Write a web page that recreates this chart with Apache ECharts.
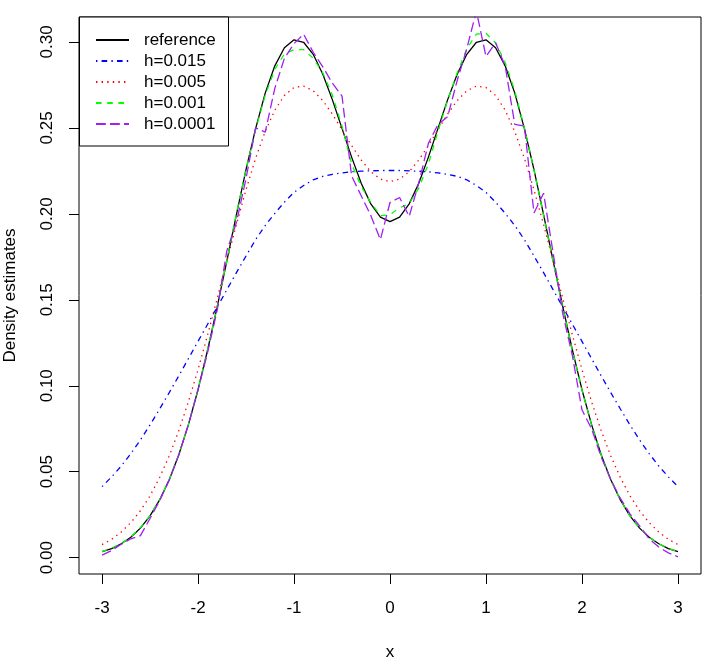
<!DOCTYPE html>
<html>
<head>
<meta charset="utf-8">
<script src="https://cdn.jsdelivr.net/npm/echarts@6/dist/echarts.min.js"></script>
<style>
  html, body { margin: 0; padding: 0; background: #fff; }
  #chart { width: 706px; height: 663px; }
</style>
</head>
<body>
<div id="chart"></div>
<script>
var xs = [-3.0, -2.9, -2.8, -2.7, -2.6, -2.5, -2.4, -2.3, -2.2, -2.1,
  -2.0, -1.9, -1.8, -1.7, -1.6, -1.5, -1.4, -1.3, -1.2, -1.1,
  -1.0, -0.9, -0.8, -0.7, -0.6, -0.5, -0.4, -0.3, -0.2, -0.1,
  0.0, 0.1, 0.2, 0.3, 0.4, 0.5, 0.6, 0.7, 0.8, 0.9,
  1.0, 1.1, 1.2, 1.3, 1.4, 1.5, 1.6, 1.7, 1.8, 1.9,
  2.0, 2.1, 2.2, 2.3, 2.4, 2.5, 2.6, 2.7, 2.8, 2.9, 3.0];

var reference = [0.0035, 0.0053, 0.0081, 0.0119, 0.0172, 0.0243, 0.0336, 0.0453, 0.0599, 0.0774,
  0.0977, 0.1208, 0.1460, 0.1725, 0.1996, 0.2257, 0.2496, 0.2702, 0.2861, 0.2966,
  0.3012, 0.2998, 0.2928, 0.2812, 0.2663, 0.2497, 0.2330, 0.2178, 0.2058, 0.1981,
  0.1955, 0.1981, 0.2058, 0.2178, 0.2330, 0.2497, 0.2663, 0.2812, 0.2928, 0.2998,
  0.3012, 0.2966, 0.2861, 0.2702, 0.2496, 0.2257, 0.1996, 0.1725, 0.1460, 0.1208,
  0.0977, 0.0774, 0.0599, 0.0453, 0.0336, 0.0243, 0.0172, 0.0119, 0.0081, 0.0053, 0.0035];

var h015 = [0.0413, 0.0470, 0.0533, 0.0605, 0.0685, 0.0772, 0.0865, 0.0960, 0.1058, 0.1158,
  0.1258, 0.1358, 0.1458, 0.1558, 0.1658, 0.1755, 0.1850, 0.1932, 0.2003, 0.2068,
  0.2125, 0.2165, 0.2198, 0.2218, 0.2230, 0.2238, 0.2245, 0.2248, 0.2250, 0.2252,
  0.2252, 0.2252, 0.2250, 0.2248, 0.2245, 0.2238, 0.2230, 0.2218, 0.2198, 0.2165,
  0.2125, 0.2068, 0.2003, 0.1932, 0.1850, 0.1755, 0.1658, 0.1558, 0.1458, 0.1358,
  0.1258, 0.1158, 0.1058, 0.0960, 0.0865, 0.0772, 0.0685, 0.0605, 0.0533, 0.0470, 0.0413];

var h005 = [0.0076, 0.0107, 0.0149, 0.0204, 0.0273, 0.0360, 0.0466, 0.0592, 0.0739, 0.0907,
  0.1094, 0.1296, 0.1508, 0.1725, 0.1938, 0.2140, 0.2323, 0.2479, 0.2603, 0.2689,
  0.2735, 0.2743, 0.2716, 0.2659, 0.2580, 0.2489, 0.2397, 0.2313, 0.2245, 0.2202,
  0.2187, 0.2202, 0.2245, 0.2313, 0.2397, 0.2489, 0.2580, 0.2659, 0.2716, 0.2743,
  0.2735, 0.2689, 0.2603, 0.2479, 0.2323, 0.2140, 0.1938, 0.1725, 0.1508, 0.1296,
  0.1094, 0.0907, 0.0739, 0.0592, 0.0466, 0.0360, 0.0273, 0.0204, 0.0149, 0.0107, 0.0076];

var h001 = [0.0035, 0.0055, 0.0083, 0.0120, 0.0175, 0.0245, 0.0338, 0.0455, 0.0600, 0.0775,
  0.0978, 0.1210, 0.1462, 0.1730, 0.2000, 0.2258, 0.2490, 0.2690, 0.2840, 0.2930,
  0.2955, 0.2955, 0.2905, 0.2820, 0.2690, 0.2510, 0.2290, 0.2160, 0.2065, 0.1990,
  0.1995, 0.2035, 0.2060, 0.2150, 0.2290, 0.2480, 0.2660, 0.2820, 0.2960, 0.3045,
  0.3050, 0.2995, 0.2880, 0.2715, 0.2500, 0.2255, 0.1990, 0.1720, 0.1455, 0.1205,
  0.0975, 0.0772, 0.0597, 0.0452, 0.0335, 0.0242, 0.0172, 0.0119, 0.0081, 0.0054, 0.0036];

var h0001 = [0.0015, 0.0042, 0.0078, 0.0110, 0.0128, 0.0228, 0.0332, 0.0450, 0.0598, 0.0775,
  0.0975, 0.1195, 0.1440, 0.1785, 0.1950, 0.2205, 0.2500, 0.2475, 0.2730, 0.2905,
  0.2990, 0.3045, 0.2940, 0.2855, 0.2760, 0.2685, 0.2220, 0.2105, 0.1990, 0.1850,
  0.2066, 0.2095, 0.1985, 0.2180, 0.2410, 0.2520, 0.2565, 0.2775, 0.2960, 0.3180,
  0.2915, 0.2995, 0.2860, 0.2520, 0.2510, 0.2005, 0.2120, 0.1770, 0.1420, 0.1175,
  0.0860, 0.0750, 0.0585, 0.0455, 0.0345, 0.0255, 0.0185, 0.0110, 0.0062, 0.0028, 0.0005];

var xTicks = [-3, -2, -1, 0, 1, 2, 3];
var yTicks = [0, 0.05, 0.10, 0.15, 0.20, 0.25, 0.30];

var seriesNames = ["reference", "h=0.015", "h=0.005", "h=0.001", "h=0.0001"];
var seriesValues = [reference, h015, h005, h001, h0001];
var seriesColors = ["#000000", "#0000FF", "#FF0000", "#00FF00", "#A020F0"];
var seriesDash = ["solid", [1.4, 4.2, 5.6, 4.2], [1.4, 4.2], [5.6, 5.6], [9.8, 4.2]];

var FONT = "'Liberation Sans', Arial, Helvetica, sans-serif";

function pairs(vals) {
  var out = [];
  for (var i = 0; i < xs.length; i++) out.push([xs[i], vals[i]]);
  return out;
}

var series = seriesNames.map(function (name, i) {
  return {
    name: name,
    type: "line",
    data: pairs(seriesValues[i]),
    symbol: "none",
    smooth: false,
    clip: true,
    animation: false,
    lineStyle: { color: seriesColors[i], width: 1.3, type: seriesDash[i] },
    itemStyle: { color: seriesColors[i] },
    z: 2 + i
  };
});

var chart = echarts.init(document.getElementById("chart"), null, { renderer: "canvas" });

chart.setOption({
  backgroundColor: "#ffffff",
  animation: false,
  textStyle: { fontFamily: FONT },
  grid: {
    left: 79, right: 5, top: 17, bottom: 89,
    outerBoundsMode: "none",
    containLabel: false,
    show: true, borderColor: "#000", borderWidth: 1, backgroundColor: "transparent"
  },
  xAxis: {
    type: "value",
    min: -3.24, max: 3.24,
    name: "x",
    nameLocation: "middle",
    nameGap: 70,
    nameTextStyle: { color: "#000", fontSize: 17, fontFamily: FONT },
    splitLine: { show: false },
    axisLine: { show: false, onZero: false },
    axisTick: { show: true, inside: false, length: 10, customValues: xTicks,
      lineStyle: { color: "#000", width: 1 } },
    axisLabel: { show: true, customValues: xTicks, margin: 26, color: "#000",
      fontSize: 17, fontFamily: FONT }
  },
  yAxis: {
    type: "value",
    min: -0.0095, max: 0.3145,
    name: "Density estimates",
    nameLocation: "middle",
    nameGap: 60,
    nameRotate: 90,
    nameTextStyle: { color: "#000", fontSize: 17, fontFamily: FONT },
    splitLine: { show: false },
    axisLine: { show: false, onZero: false },
    axisTick: { show: true, inside: false, length: 10, customValues: yTicks,
      lineStyle: { color: "#000", width: 1 } },
    axisLabel: { show: true, customValues: yTicks, rotate: 90, margin: 23, color: "#000",
      fontSize: 17, fontFamily: FONT,
      formatter: function (v) { return v.toFixed(2); } }
  },
  legend: {
    show: true,
    orient: "vertical",
    left: 95, top: 31.5,
    itemWidth: 33, itemHeight: 17, itemGap: 4.0,
    padding: 0,
    z: 20,
    data: seriesNames,
    itemStyle: { opacity: 0 },
    textStyle: { color: "#000", fontSize: 17, fontFamily: FONT, padding: [0, 0, 0, 10] },
    selectedMode: false
  },
  graphic: [{
    type: "rect",
    shape: { x: 79.5, y: 17, width: 149, height: 129 },
    style: { fill: "#fff", stroke: "#000", lineWidth: 1 },
    z: 10
  }],
  series: series
});
</script>
</body>
</html>
